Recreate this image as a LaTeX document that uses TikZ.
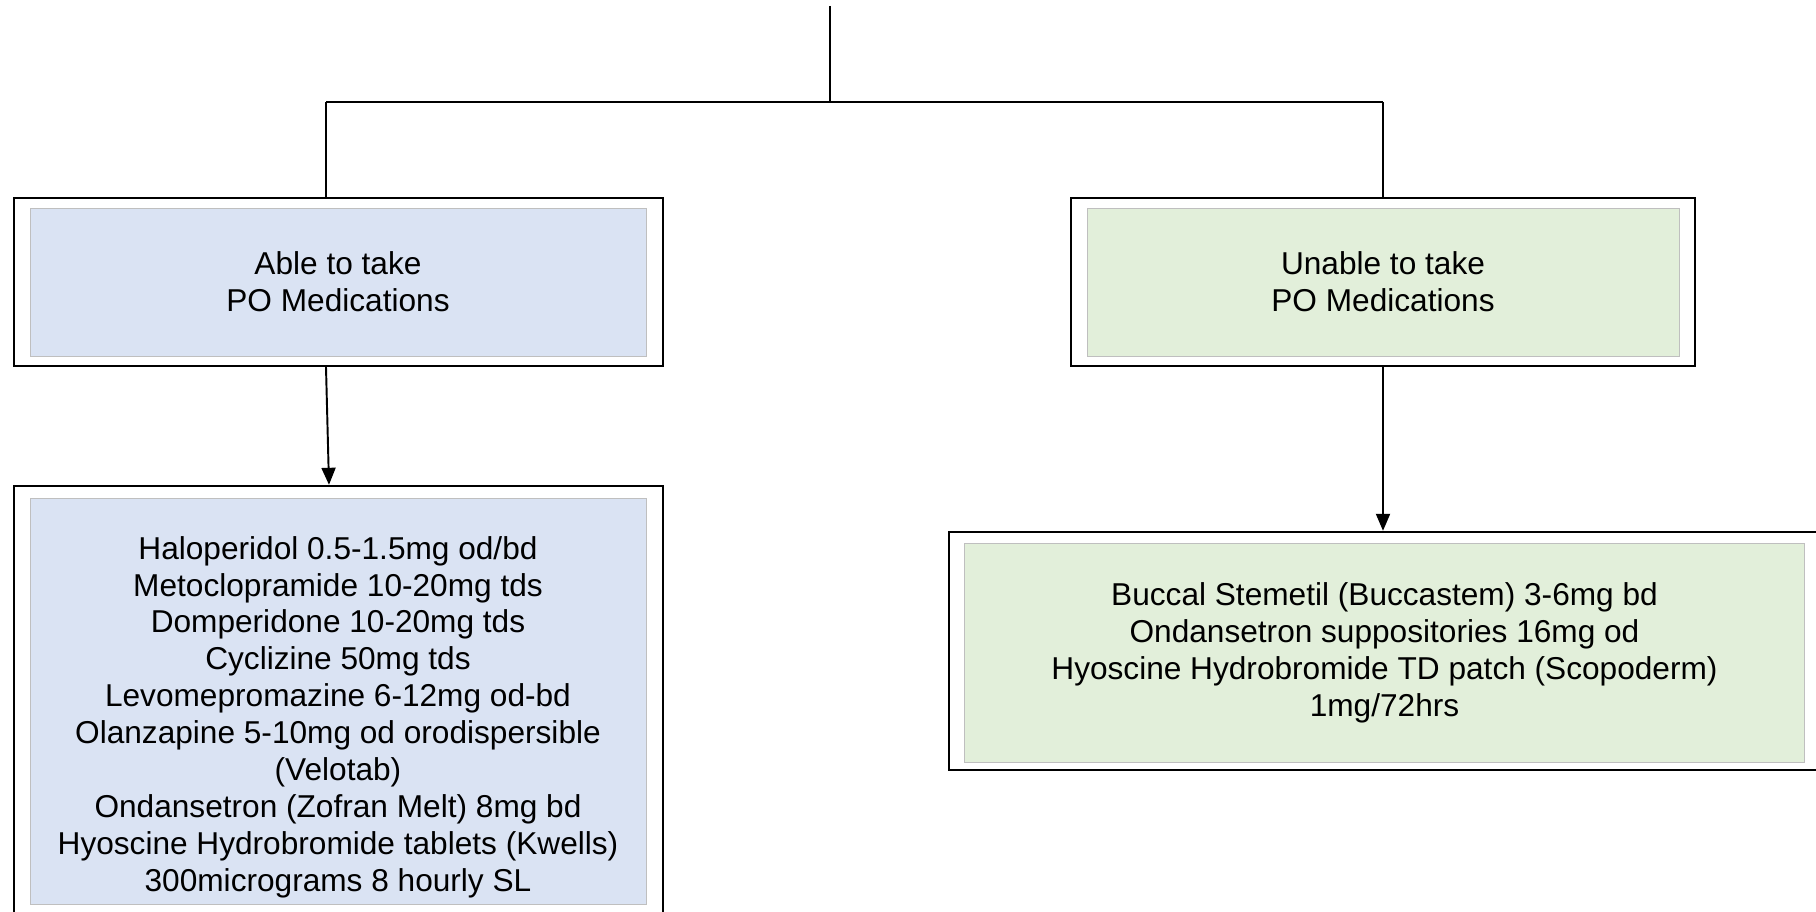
\documentclass[tikz,border=0pt]{standalone}
\usepackage{fontspec}
\setmainfont{Liberation Sans}
\usetikzlibrary{arrows.meta}
\definecolor{paleblue}{HTML}{DAE3F3}
\definecolor{palegreen}{HTML}{E2EFDA}

\begin{document}
\begin{tikzpicture}[x=0.02cm,y=-0.02cm,>={Triangle[length=0.34cm,width=0.28cm]},
  outer node/.style={draw=black,line width=1.4pt,fill=white,inner sep=0pt},
  inner node/.style={draw=black!25,line width=0.5pt,inner sep=0pt,align=center,
    font=\fontsize{18}{21}\selectfont},
  link/.style={line width=1.1pt}]

  \useasboundingbox (0,0) rectangle (1816,912);
  \clip (0,0) rectangle (1816,912);

  \node[outer node,minimum width=12.98cm,minimum height=3.36cm] (1) at (338.5,282) {};
  \node[inner node,fill=paleblue,minimum width=12.32cm,minimum height=2.96cm] (2) at (338,282)
    {Able to take\\PO Medications};
  \node[outer node,minimum width=12.48cm,minimum height=3.36cm] (3) at (1383,282) {};
  \node[inner node,fill=palegreen,minimum width=11.84cm,minimum height=2.96cm] (4) at (1383,282)
    {Unable to take\\PO Medications};
  \node[outer node,minimum width=12.98cm,minimum height=9.08cm] (5) at (338.5,713) {};
  \node[inner node,fill=paleblue,minimum width=12.32cm,minimum height=8.12cm] (6) at (338,701)
    {\rule{0pt}{1.1cm}Haloperidol 0.5-1.5mg od/bd\\Metoclopramide 10-20mg tds\\Domperidone 10-20mg tds\\
     Cyclizine 50mg tds\\Levomepromazine 6-12mg od-bd\\Olanzapine 5-10mg od orodispersible\\
     (Velotab)\\Ondansetron (Zofran Melt) 8mg bd\\Hyoscine Hydrobromide tablets (Kwells)\\
     300micrograms 8 hourly SL};
  \node[outer node,minimum width=17.82cm,minimum height=4.76cm] (7) at (1394.5,651) {};
  \node[inner node,fill=palegreen,minimum width=16.82cm,minimum height=4.38cm] (8) at (1384.5,652.5)
    {Buccal Stemetil (Buccastem) 3-6mg bd\\Ondansetron suppositories 16mg od\\
     Hyoscine Hydrobromide TD patch (Scopoderm)\\1mg/72hrs};

  \coordinate (top) at (830,6);
  \coordinate (mid) at (830,102);
  \coordinate (left) at (326,102);
  \coordinate (right) at (1383,102);
\draw [link] (top) -- (mid);
\draw [link] (left) -- (right);
\draw [link] (left) -- (left |- 1.north);
\draw [link] (right) -- (3.north);
\draw [link,->] (left |- 1.south) -- ([xshift=-0.19cm]5.north);
\draw [link,->] (3.south) -- (3.south |- 7.north);
\end{tikzpicture}
\end{document}
